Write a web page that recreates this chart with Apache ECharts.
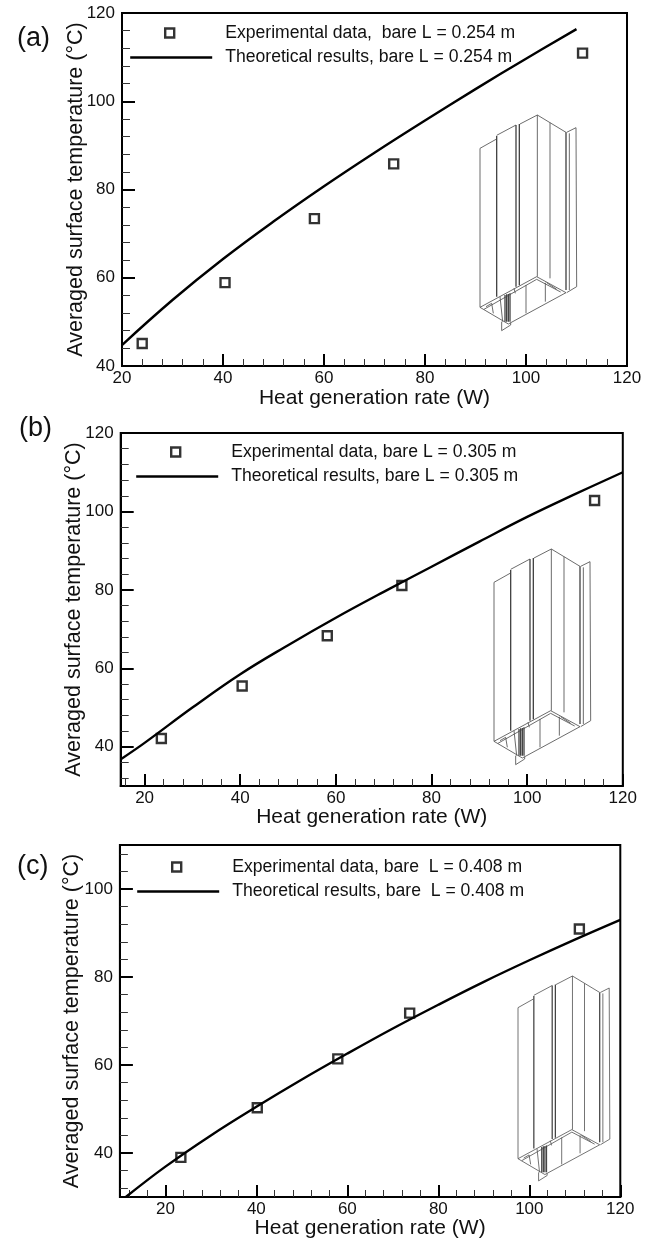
<!DOCTYPE html>
<html><head><meta charset="utf-8">
<style>html,body{margin:0;padding:0;background:#fff}#c{width:650px;height:1238px}</style>
<script src="https://cdn.jsdelivr.net/npm/echarts@6/dist/echarts.min.js"></script>
</head><body><div id="c"></div>
<script>
var xTicks = [20, 40, 60, 80, 100, 120];
var xMinorA = [24,28,32,36,44,48,52,56,64,68,72,76,84,88,92,96,104,108,112,116];
var xMinorB = [16].concat(xMinorA);
var xMinorC = [12,16].concat(xMinorA);
var yTicksA = [40, 60, 80, 100, 120];
var yTicksB = [40, 60, 80, 100, 120];
var yTicksC = [40, 60, 80, 100];
var yMinorA = [44,48,52,56,64,68,72,76,84,88,92,96,104,108,112,116];
var yMinorB = [32,36].concat(yMinorA);
var yMinorC = [32,36,44,48,52,56,64,68,72,76,84,88,92,96,104,108];

var expA = [[24,45.1],[40.4,58.9],[58.1,73.4],[73.8,85.8],[111.2,110.9]];
var expB = [[23.5,42.1],[40.4,55.5],[58.2,68.3],[73.8,81.1],[114.1,102.8]];
var expC = [[23.4,39],[40.2,50.3],[57.9,61.4],[73.7,71.8],[111,90.9]];
var theoA = [[20,44.75],[30,54.95],[40,64.25],[50,72.75],[60,80.75],[70,88.35],[80,95.65],[90,102.75],[100,109.65],[110,116.35]];
var theoB = [[15.1,36.9],[20,41],[30,50],[40,58.5],[50,65.9],[60,72.9],[70,79.5],[80,85.9],[90,92.3],[100,98.6],[110,104.4],[120,110]];
var theoC = [[11.3,30],[20,36.9],[30,44],[40,50.5],[50,56.7],[60,62.6],[70,68.3],[80,73.7],[90,78.9],[100,83.8],[110,88.5],[120,93]];

var namesExp = ['Experimental data,  bare L = 0.254 m','Experimental data, bare L = 0.305 m','Experimental data, bare  L = 0.408 m'];
var namesTheo = ['Theoretical results, bare L = 0.254 m','Theoretical results, bare L = 0.305 m','Theoretical results, bare  L = 0.408 m'];
var panelLabels = ['(a)','(b)','(c)'];
var xName = 'Heat generation rate (W)';
var yName = 'Averaged surface temperature (°C)';

var FONT = '"Liberation Sans", Arial, sans-serif';
var INK = '#111';
var panels = [
 {l:122,r:627,t:13,b:366,xmin:20,ymin:40,ymax:120,xm:xMinorA,yt:yTicksA,ym:yMinorA,exp:expA,th:theoA,xg:22,yg:35,
  leg:{x:129,sq:164,y:24},lab:{x:17,y:25},ins:{x:480,y:115,s:1}},
 {l:120.7,r:622.8,t:433,b:786,xmin:15,ymin:30,ymax:120,xm:xMinorB,yt:yTicksB,ym:yMinorB,exp:expB,th:theoB,xg:21,yg:36,
  leg:{x:135,sq:170,y:443},lab:{x:19,y:415},ins:{x:494,y:549,s:1}},
 {l:119.9,r:620.3,t:845,b:1197,xmin:10,ymin:30,ymax:110,xm:xMinorC,yt:yTicksC,ym:yMinorC,exp:expC,th:theoC,xg:21,yg:37,
  leg:{x:136,sq:171,y:858},lab:{x:17,y:853},ins:{x:518,y:976,s:0.95}}
];

// isometric fin sketch, in its own local units
var insetThin = [
 [[120,145],[120,622]],[[120,145],[168,118]],[[170,106],[228,75]],[[240,72],[292,45],[378,97]],
 [[380,97],[408,83],[410,560],[380,578]],[[388,100],[388,570]],[[292,45],[292,530]],[[330,68],[330,535]],
 [[120,622],[290,530],[378,578],[205,672],[120,622]],[[132,628],[290,538],[362,576]],
 [[185,665],[185,692],[212,675],[212,668]],[[258,555],[258,640]],[[316,548],[316,605]],
 [[155,610],[160,640]],[[138,620],[155,610]],[[320,548],[350,568]],[[222,565],[226,580]],[[180,590],[188,665]]
];
var insetThick = [
 [[170,108],[170,590]],[[228,75],[228,560]],[[238,72],[238,556]],[[378,97],[378,570]],
 [[195,585],[195,665]],[[200,583],[200,665]],[[205,582],[205,665]],[[210,580],[210,665]]
];

var grids=[],xAxes=[],yAxes=[],series=[],legends=[],titles=[],graphics=[];
panels.forEach(function(p,i){
  grids.push({left:p.l,top:p.t,width:p.r-p.l,height:p.b-p.t,show:true,borderColor:'#000',borderWidth:2,backgroundColor:'transparent',outerBoundsMode:'none'});
  var line={show:true,onZero:false,lineStyle:{color:'#000',width:2}};
  xAxes.push({type:'value',gridIndex:i,position:'bottom',min:p.xmin,max:120,splitLine:{show:false},axisLine:line,
    name:xName,nameLocation:'middle',nameGap:p.xg,nameMoveOverlap:false,nameTextStyle:{fontFamily:FONT,fontSize:21,color:INK},
    axisTick:{show:true,inside:true,length:12,customValues:xTicks,lineStyle:{color:'#000',width:2}},
    axisLabel:{customValues:xTicks,margin:4,fontFamily:FONT,fontSize:17,color:INK}});
  xAxes.push({type:'value',gridIndex:i,position:'bottom',min:p.xmin,max:120,splitLine:{show:false},axisLine:{show:false},
    axisTick:{show:true,inside:true,length:7,customValues:p.xm,lineStyle:{color:'#333',width:1}},axisLabel:{show:false}});
  yAxes.push({type:'value',gridIndex:i,position:'left',min:p.ymin,max:p.ymax,splitLine:{show:false},axisLine:line,
    name:yName,nameLocation:'middle',nameGap:p.yg,nameMoveOverlap:false,nameTextStyle:{fontFamily:FONT,fontSize:21.5,color:INK},
    axisTick:{show:true,inside:true,length:13,customValues:p.yt,lineStyle:{color:'#000',width:2}},
    axisLabel:{customValues:p.yt,margin:7,fontFamily:FONT,fontSize:17,color:INK}});
  yAxes.push({type:'value',gridIndex:i,position:'left',min:p.ymin,max:p.ymax,splitLine:{show:false},axisLine:{show:false},
    axisTick:{show:true,inside:true,length:8,customValues:p.ym,lineStyle:{color:'#333',width:1}},axisLabel:{show:false}});
  series.push({name:namesExp[i],type:'scatter',xAxisIndex:i*2,yAxisIndex:i*2,data:p.exp,symbol:'rect',symbolSize:9,z:5,
    itemStyle:{color:'transparent',borderColor:'#000',borderWidth:2.4}});
  series.push({name:namesTheo[i],type:'line',xAxisIndex:i*2,yAxisIndex:i*2,data:p.th,smooth:0.4,symbol:'none',z:4,
    lineStyle:{color:'#000',width:2.4}});
  var txt={fontFamily:FONT,fontSize:17.6,color:INK,lineHeight:16};
  legends.push({left:p.leg.sq,top:p.leg.y,padding:0,itemWidth:9,itemHeight:9,selectedMode:false,
    data:[{name:namesExp[i],icon:'rect',itemStyle:{color:'transparent',borderColor:'#000',borderWidth:2.4}}],
    textStyle:Object.assign({padding:[0,0,0,p.leg.x+95-p.leg.sq-14]},txt)});
  legends.push({left:p.leg.x,top:p.leg.y+24.5,padding:0,itemWidth:82,itemHeight:9,selectedMode:false,
    data:[{name:namesTheo[i],itemStyle:{opacity:0},lineStyle:{color:'#000',width:2.4}}],
    textStyle:Object.assign({padding:[0,0,0,8]},txt)});
  titles.push({text:panelLabels[i],left:p.lab.x,top:p.lab.y,padding:0,textStyle:{fontFamily:FONT,fontSize:27,fontWeight:'normal',color:INK}});
  var kids=[];
  insetThin.forEach(function(pts){kids.push({type:'polyline',shape:{points:pts},style:{fill:null,stroke:'#555',lineWidth:2.6}});});
  insetThick.forEach(function(pts){kids.push({type:'polyline',shape:{points:pts},style:{fill:null,stroke:'#444',lineWidth:4}});});
  var k=p.ins.s/3;
  graphics.push({type:'group',x:p.ins.x-120*k,y:p.ins.y-45*k,scaleX:k,scaleY:k,z:3,children:kids});
});

var chart=echarts.init(document.getElementById('c'),null,{renderer:'canvas'});
chart.setOption({animation:false,backgroundColor:'#fff',title:titles,legend:legends,grid:grids,xAxis:xAxes,yAxis:yAxes,series:series,graphic:graphics});
</script></body></html>
